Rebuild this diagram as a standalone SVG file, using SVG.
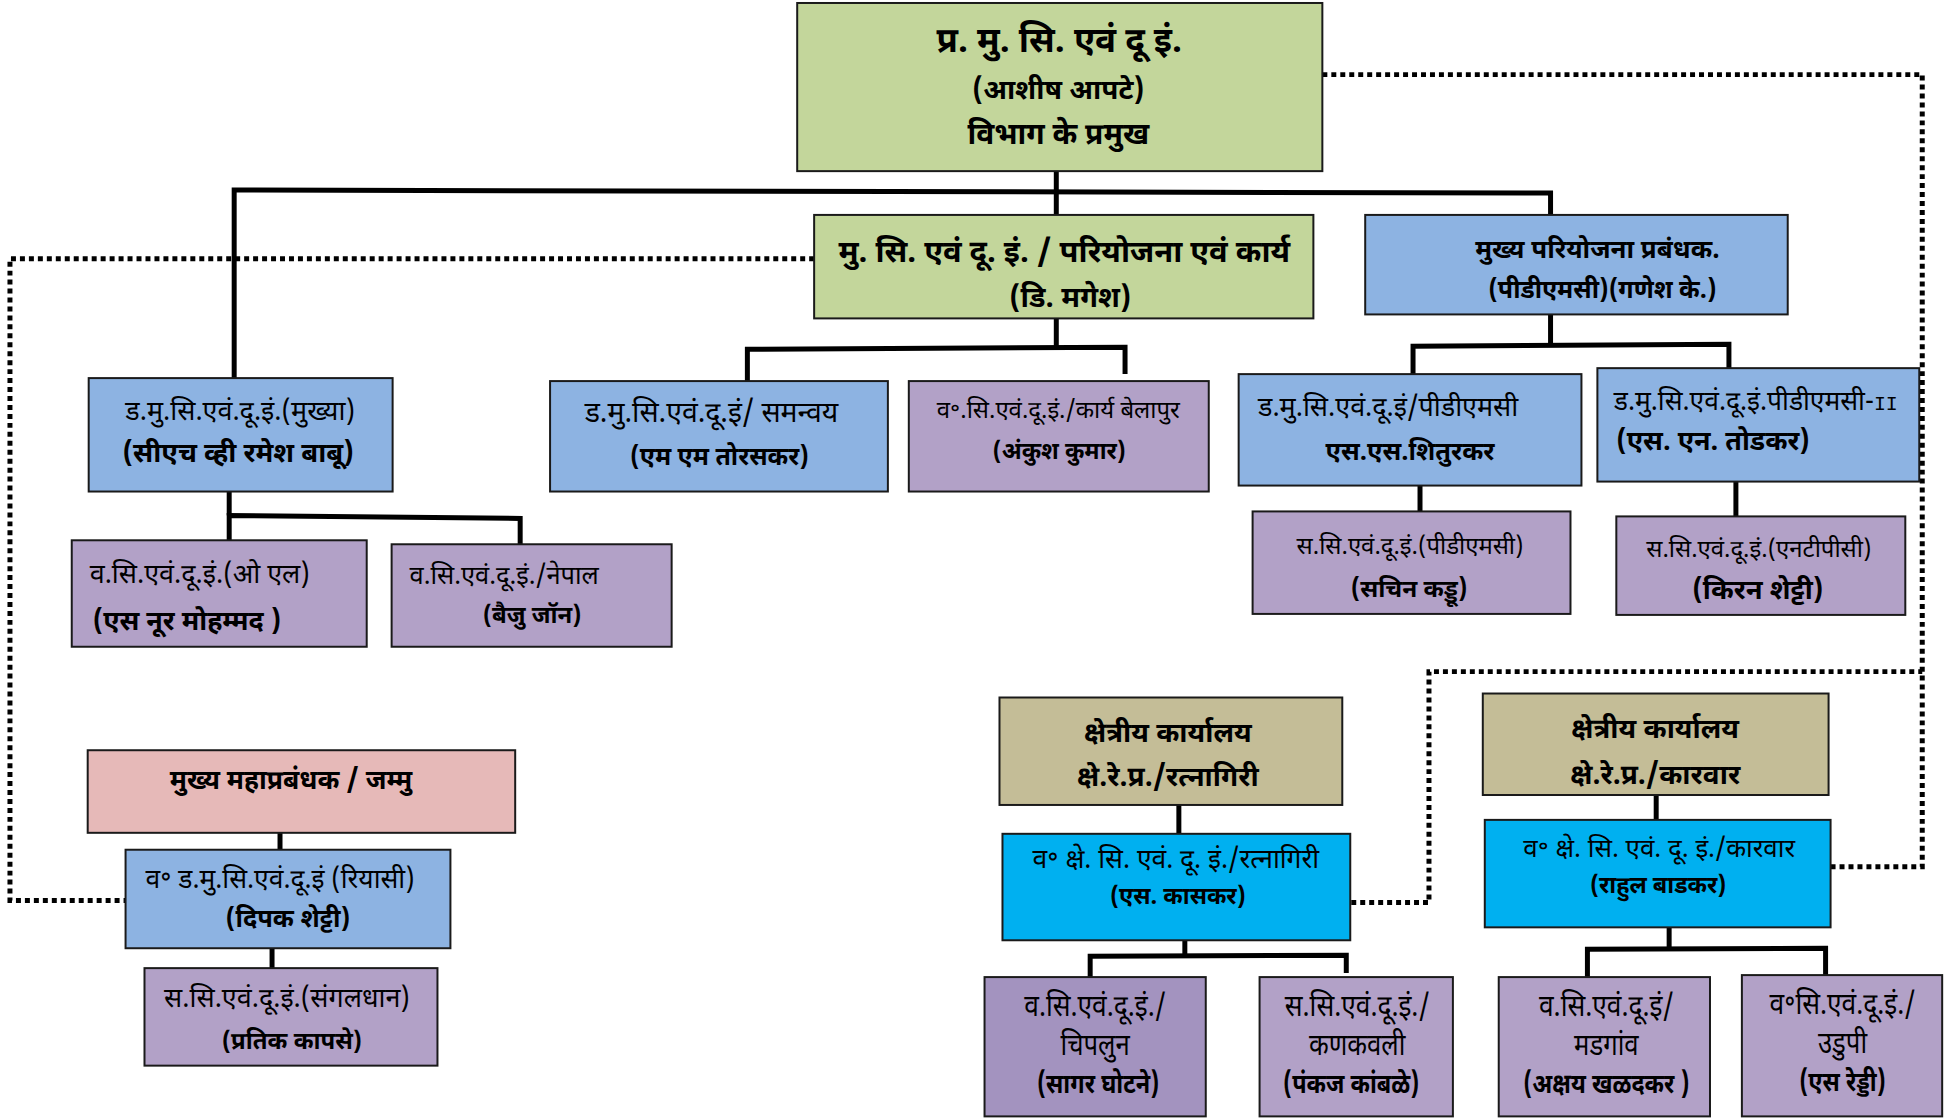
<svg xmlns="http://www.w3.org/2000/svg" width="1957" height="1118" viewBox="0 0 1957 1118">
<style>
.box{stroke:#1a1a1a;stroke-width:2}
.g{fill:#c3d69b}.b{fill:#8db3e2}.p{fill:#b2a1c7}.pd{fill:#a393bf}.k{fill:#e6b9b8}.t{fill:#c4bd97}.c{fill:#00b0f0}
text{font-family:"Noto Sans Devanagari","Lohit Devanagari","Mangal","Noto Sans","DejaVu Sans",sans-serif;fill:#000;font-size:26px;text-anchor:middle}
.bd{font-weight:bold}
.l{text-anchor:start}
.m{font-family:"Liberation Mono",monospace;font-size:20px}
.ln{fill:none;stroke:#000;stroke-width:5}
.dt{fill:none;stroke:#000;stroke-width:5;stroke-dasharray:5 4}
</style>
<g transform="matrix(0.9965 0 0 0.995 0 0)">
<g id="connectors">
<polyline class="ln" points="1060,172 1060,191"/>
<polyline class="ln" points="235,380 235,191 1556,194 1556,216"/>
<line class="ln" x1="1060" y1="191" x2="1060" y2="216"/>
<polyline class="ln" points="1060,320 1060,349"/>
<polyline class="ln" points="750,383 750,351 1129,349 1129,376"/>
<polyline class="ln" points="1556,316 1556,347"/>
<polyline class="ln" points="1418,376 1418,348 1735,346 1735,370"/>
<polyline class="ln" points="230,494 230,518"/>
<polyline class="ln" points="230,543 230,518 522,521 522,547"/>
<line class="ln" x1="1425" y1="488" x2="1425" y2="514"/>
<line class="ln" x1="1742" y1="484" x2="1742" y2="519"/>
<line class="ln" x1="281" y1="837" x2="281" y2="854"/>
<line class="ln" x1="273" y1="953" x2="273" y2="973"/>
<line class="ln" x1="1183" y1="809" x2="1183" y2="838"/>
<polyline class="ln" points="1189,945 1189,960"/>
<polyline class="ln" points="1094,982 1094,961 1351,960 1351,978"/>
<line class="ln" x1="1662" y1="799" x2="1662" y2="824"/>
<polyline class="ln" points="1675,932 1675,953"/>
<polyline class="ln" points="1593,982 1593,954 1832,953 1832,980"/>
<polyline class="dt" points="1327,75 1929,75 1929,871 1835,871"/>
<polyline class="dt" points="1356,907 1434,907 1434,675 1929,675"/>
<polyline class="dt" points="817,260 10,260 10,905 126,905"/>
</g>
<g id="n-head"><rect class="box g" x="800" y="3" width="527" height="169"/>
<text class="bd" x="1063" y="52" style="font-size:35px">प्र. मु. सि. एवं दू इं.</text>
<text class="bd" x="1062" y="99" style="font-size:28px">(आशीष आपटे)</text>
<text class="bd" x="1062" y="145" style="font-size:30px">विभाग के प्रमुख</text></g>
<g id="n-ms"><rect class="box g" x="817" y="216" width="501" height="104"/>
<text class="bd" x="1068" y="263" style="font-size:31px">मु. सि. एवं दू. इं. / परियोजना एवं कार्य</text>
<text class="bd" x="1074" y="309" style="font-size:29px">(डि. मगेश)</text></g>
<g id="n-cpm"><rect class="box b" x="1370" y="216" width="424" height="100"/>
<text class="bd" x="1603" y="259" style="font-size:26px">मुख्य परियोजना प्रबंधक.</text>
<text class="bd" x="1608" y="300" style="font-size:25px">(पीडीएमसी)(गणेश के.)</text></g>
<g id="n-1"><rect class="box b" x="89" y="380" width="305" height="114"/>
<text x="241" y="422" style="font-size:27px">ड.मु.सि.एवं.दू.इं.(मुख्या)</text>
<text class="bd" x="239" y="464" style="font-size:27.5px">(सीएच व्ही रमेश बाबू)</text></g>
<g id="n-2"><rect class="box b" x="552" y="383" width="339" height="111"/>
<text x="714" y="424" style="font-size:28.5px">ड.मु.सि.एवं.दू.इं/ समन्वय</text>
<text class="bd" x="722" y="467" style="font-size:25px">(एम एम तोरसकर)</text></g>
<g id="n-3"><rect class="box p" x="912" y="383" width="301" height="111"/>
<text x="1062" y="420" style="font-size:24px">व॰.सि.एवं.दू.इं./कार्य बेलापुर</text>
<text class="bd" x="1063" y="461" style="font-size:23.5px">(अंकुश कुमार)</text></g>
<g id="n-4"><rect class="box b" x="1243" y="376" width="344" height="112"/>
<text x="1393" y="418" style="font-size:27px">ड.मु.सि.एवं.दू.इं/पीडीएमसी</text>
<text class="bd" x="1415" y="462" style="font-size:25.5px">एस.एस.शितुरकर</text></g>
<g id="n-5"><rect class="box b" x="1603" y="370" width="323" height="114"/>
<text x="1762" y="412" style="font-size:26.5px">ड.मु.सि.एवं.दू.इं.पीडीएमसी-<tspan class="m">II</tspan></text>
<text class="bd l" x="1622" y="452" style="font-size:27px">(एस. एन. तोडकर)</text></g>
<g id="n-6"><rect class="box p" x="72" y="543" width="296" height="107"/>
<text class="l" x="90" y="586" style="font-size:27px">व.सि.एवं.दू.इं.(ओ एल)</text>
<text class="bd l" x="93" y="633" style="font-size:27px">(एस नूर मोहम्मद )</text></g>
<g id="n-7"><rect class="box p" x="393" y="547" width="281" height="103"/>
<text class="l" x="411" y="587" style="font-size:25.5px">व.सि.एवं.दू.इं./नेपाल</text>
<text class="bd" x="534" y="626" style="font-size:24px">(बैजु जॉन)</text></g>
<g id="n-8"><rect class="box p" x="1257" y="514" width="319" height="103"/>
<text x="1415" y="557" style="font-size:24px">स.सि.एवं.दू.इं.(पीडीएमसी)</text>
<text class="bd" x="1414" y="600" style="font-size:24.5px">(सचिन कड्डू)</text></g>
<g id="n-9"><rect class="box p" x="1622" y="519" width="290" height="99"/>
<text x="1765" y="560" style="font-size:24px">स.सि.एवं.दू.इं.(एनटीपीसी)</text>
<text class="bd" x="1764" y="602" style="font-size:27.5px">(किरन शेट्टी)</text></g>
<g id="n-10"><rect class="box k" x="88" y="754" width="429" height="83"/>
<text class="bd" x="292" y="793" style="font-size:26.5px">मुख्य महाप्रबंधक / जम्मु</text></g>
<g id="n-11"><rect class="box b" x="126" y="854" width="326" height="99"/>
<text x="281" y="892" style="font-size:26.5px">व॰ ड.मु.सि.एवं.दू.इं (रियासी)</text>
<text class="bd" x="289" y="932" style="font-size:25.5px">(दिपक शेट्टी)</text></g>
<g id="n-12"><rect class="box p" x="145" y="973" width="294" height="98"/>
<text x="288" y="1012" style="font-size:27px">स.सि.एवं.दू.इं.(संगलधान)</text>
<text class="bd" x="293" y="1054" style="font-size:24px">(प्रतिक कापसे)</text></g>
<g id="n-13"><rect class="box t" x="1003" y="701" width="344" height="108"/>
<text class="bd" x="1172" y="746" style="font-size:28px">क्षेत्रीय कार्यालय</text>
<text class="bd" x="1172" y="790" style="font-size:28px">क्षे.रे.प्र./रत्नागिरी</text></g>
<g id="n-14"><rect class="box c" x="1006" y="838" width="349" height="107"/>
<text x="1180" y="872" style="font-size:26.5px">व॰ क्षे. सि. एवं. दू. इं./रत्नागिरी</text>
<text class="bd" x="1182" y="909" style="font-size:23.5px">(एस. कासकर)</text></g>
<g id="n-15"><rect class="box t" x="1488" y="697" width="347" height="102"/>
<text class="bd" x="1661" y="742" style="font-size:28px">क्षेत्रीय कार्यालय</text>
<text class="bd" x="1661" y="788" style="font-size:28px">क्षे.रे.प्र./कारवार</text></g>
<g id="n-16"><rect class="box c" x="1490" y="824" width="347" height="108"/>
<text x="1665" y="861" style="font-size:26px">व॰ क्षे. सि. एवं. दू. इं./कारवार</text>
<text class="bd" x="1664" y="897" style="font-size:23.5px">(राहुल बाडकर)</text></g>
<g id="n-17"><rect class="box pd" x="988" y="982" width="222" height="140"/>
<text transform="translate(1099,1021) scale(0.88,1)" x="0" y="0" style="font-size:30px">व.सि.एवं.दू.इं./</text>
<text transform="translate(1099,1060) scale(0.86,1)" x="0" y="0" style="font-size:30px">चिपलुन</text>
<text class="bd" transform="translate(1102,1098) scale(0.84,1)" x="0" y="0" style="font-size:28px">(सागर घोटने)</text></g>
<g id="n-18"><rect class="box p" x="1264" y="982" width="194" height="140"/>
<text transform="translate(1362,1021) scale(0.88,1)" x="0" y="0" style="font-size:30px">स.सि.एवं.दू.इं./</text>
<text transform="translate(1362,1060) scale(0.86,1)" x="0" y="0" style="font-size:30px">कणकवली</text>
<text class="bd" transform="translate(1356,1098) scale(0.84,1)" x="0" y="0" style="font-size:28px">(पंकज कांबळे)</text></g>
<g id="n-19"><rect class="box p" x="1504" y="982" width="212" height="140"/>
<text transform="translate(1612,1021) scale(0.88,1)" x="0" y="0" style="font-size:30px">व.सि.एवं.दू.इं/</text>
<text transform="translate(1612,1060) scale(0.86,1)" x="0" y="0" style="font-size:30px">मडगांव</text>
<text class="bd" transform="translate(1612,1098) scale(0.84,1)" x="0" y="0" style="font-size:28px">(अक्षय खळदकर )</text></g>
<g id="n-20"><rect class="box p" x="1748" y="980" width="201" height="142"/>
<text transform="translate(1849,1019) scale(0.88,1)" x="0" y="0" style="font-size:30px">व॰सि.एवं.दू.इं./</text>
<text transform="translate(1849,1058) scale(0.86,1)" x="0" y="0" style="font-size:30px">उडुपी</text>
<text class="bd" transform="translate(1849,1096) scale(0.84,1)" x="0" y="0" style="font-size:28px">(एस रेड्डी)</text></g>
</g>
</svg>
